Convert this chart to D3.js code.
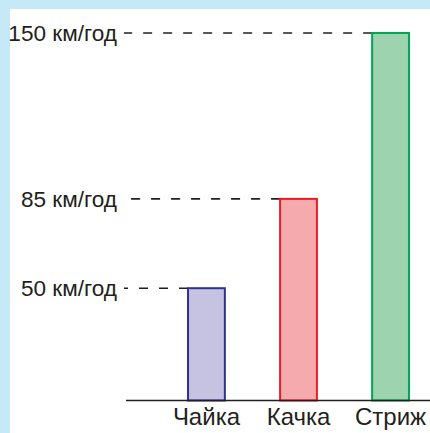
<!DOCTYPE html>
<html>
<head>
<meta charset="utf-8">
<script src="https://cdn.jsdelivr.net/npm/d3@7"></script>
<style>
  html, body { margin: 0; padding: 0; background: #c6e9f8; }
  svg { display: block; }
</style>
</head>
<body>
<script>
// Bird flight speeds (km/h)
const birds  = ["Чайка", "Качка", "Стриж"];
const speeds = [50, 85, 150];
const speedLabels = ["50 км/год", "85 км/год", "150 км/год"];
const fills   = ["#c6c3e2", "#f5aaad", "#9dd3ae"];
const strokes = ["#2e3192", "#ed1c24", "#00a651"];

const W = 430, H = 433;
const svg = d3.select("body").append("svg")
  .attr("width", W).attr("height", H);

// light-blue frame with white drawing area
svg.append("rect").attr("width", W).attr("height", H).attr("fill", "#c6e9f8");
svg.append("rect").attr("x", 10).attr("y", 9).attr("width", W - 10).attr("height", H - 9).attr("fill", "#ffffff");

const baseY = 400.5;
const x = d3.scaleBand().domain(birds).range([142, 455]).paddingInner(0.6).paddingOuter(0.5);
const y = d3.scaleLinear().domain([6, 150]).range([baseY, 33]);

const font = "'Liberation Sans', Arial, sans-serif";
const ink = "#231f20";

// dashed guide lines from each bar top back to its label
const labelRight = 117;
svg.append("g").selectAll("line").data(speeds).join("line")
  .attr("x1", (d, i) => x(birds[i]))
  .attr("x2", labelRight + 7)
  .attr("y1", d => y(d)).attr("y2", d => y(d))
  .attr("stroke", ink)
  .attr("stroke-width", 1.6)
  .attr("stroke-dasharray", "9 11");

// value labels
svg.append("g").selectAll("text").data(speeds).join("text")
  .attr("x", labelRight)
  .attr("y", d => y(d))
  .attr("dy", "0.36em")
  .attr("text-anchor", "end")
  .attr("font-family", font)
  .attr("font-size", 22.6)
  .attr("fill", ink)
  .text((d, i) => speedLabels[i]);

// bars
svg.append("g").selectAll("rect").data(speeds).join("rect")
  .attr("x", (d, i) => x(birds[i]))
  .attr("y", d => y(d))
  .attr("width", x.bandwidth())
  .attr("height", d => baseY - y(d))
  .attr("fill", (d, i) => fills[i])
  .attr("stroke", (d, i) => strokes[i])
  .attr("stroke-width", 2);

// baseline
svg.append("line")
  .attr("x1", 126).attr("x2", W)
  .attr("y1", baseY).attr("y2", baseY)
  .attr("stroke", ink).attr("stroke-width", 1.6);

// category labels
svg.append("g").selectAll("text").data(birds).join("text")
  .attr("x", d => x(d) + x.bandwidth() / 2)
  .attr("y", 425)
  .attr("text-anchor", "middle")
  .attr("font-family", font)
  .attr("font-size", 24)
  .attr("fill", ink)
  .text(d => d);
</script>
</body>
</html>
